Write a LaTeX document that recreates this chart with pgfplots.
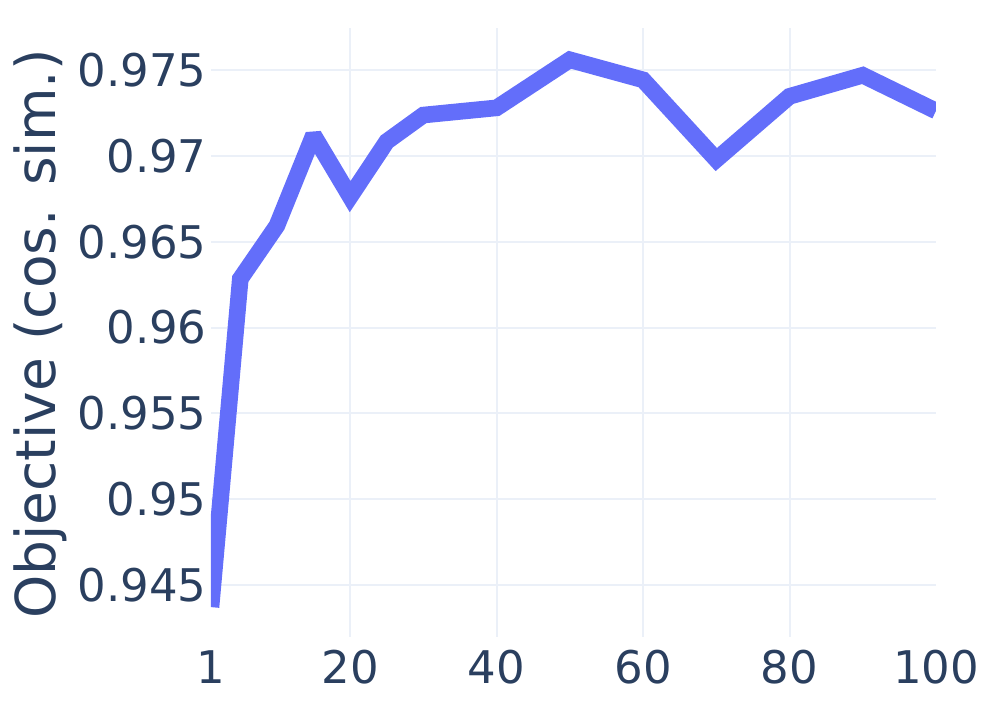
\documentclass[border=0pt]{standalone}
\usepackage{fontspec}
\setmainfont{DejaVu Sans}
\usepackage{pgfplots}
\pgfplotsset{compat=1.18}
\definecolor{plotlyblue}{HTML}{636EFA}
\definecolor{plotlytext}{HTML}{2A3F5F}
\definecolor{plotlygrid}{HTML}{EBF0F8}
\begin{document}
\begin{tikzpicture}
% 1 px of the reference = 0.5pt
\path[use as bounding box] (-105.5pt,-37.5pt) rectangle (393pt,318.5pt);
\begin{axis}[
 at={(0pt,0pt)},anchor=south west,
 scale only axis,width=362.5pt,height=304.5pt,
 xmin=1,xmax=100,ymin=0.94198,ymax=0.97744,
 axis line style={draw=none},
 major tick length=0pt,minor tick length=0pt,
 xtick={1,20,40,60,80,100},
 xticklabels={1,20,40,60,80,100},
 minor xtick={20,40,60,80},
 xminorgrids=true,
 ytick={0.945,0.95,0.955,0.96,0.965,0.97,0.975},
 yticklabels={0.945,0.95,0.955,0.96,0.965,0.97,0.975},
 ymajorgrids=true,
 grid style={plotlygrid,line width=1pt},
 minor grid style={plotlygrid,line width=1pt},
 tick label style={font=\fontsize{22.5}{27}\selectfont,text=plotlytext,inner sep=0pt},
 yticklabel style={anchor=east,xshift=-2pt},
 xticklabel style={anchor=north,yshift=-6.5pt},
 ylabel={Objective (cos. sim.)},
 ylabel style={at={(axis description cs:-0.2731,0.4975)},anchor=north,rotate=0,
   inner sep=0pt,font=\fontsize{27.5}{33}\selectfont,text=plotlytext},
]
\addplot[plotlyblue,line width=8.3pt,line join=miter,miter limit=2] coordinates {
(1,0.94372)
(5,0.96283)
(10,0.96593)
(15,0.97120)
(20,0.96762)
(25,0.97083)
(30,0.97237)
(40,0.97279)
(50,0.97559)
(60,0.97442)
(70,0.96978)
(80,0.97346)
(90,0.97469)
(100,0.97261)
};
\end{axis}
\end{tikzpicture}
\end{document}
